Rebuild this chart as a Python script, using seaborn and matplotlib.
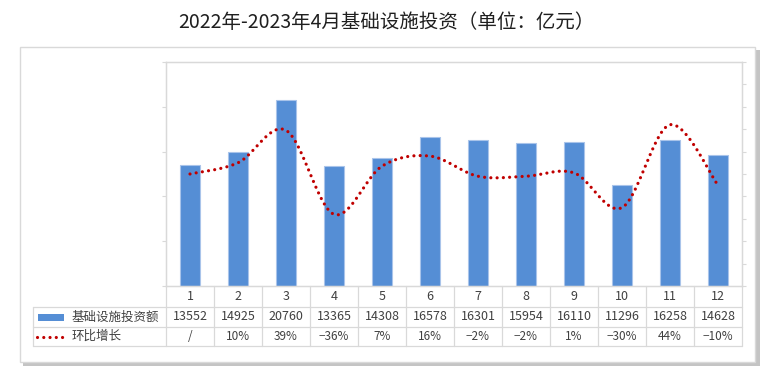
import numpy as np
import pandas as pd
import matplotlib
matplotlib.use("Agg")
import matplotlib.pyplot as plt
import seaborn as sns
from matplotlib.lines import Line2D
from matplotlib.patches import Rectangle
from matplotlib.transforms import blended_transform_factory

# ---------------- data ----------------
months = ["1", "2", "3", "4", "5", "6", "7", "8", "9", "10", "11", "12"]
investment = [13552, 14925, 20760, 13365, 14308, 16578, 16301, 15954, 16110, 11296, 16258, 14628]
growth = [0, 10, 39, -36, 7, 16, -2, -2, 1, -30, 44, -10]          # % (first month plotted at 0)
growth_labels = ["/", "10%", "39%", "−36%", "7%", "16%", "−2%", "−2%", "1%", "−30%", "44%", "−10%"]
series_names = ["基础设施投资额", "环比增长"]
title = "2022年-2023年4月基础设施投资（单位：亿元）"

# ---------------- style ----------------
sns.set_theme(style="white")
plt.rcParams["font.family"] = ["Noto Sans CJK SC", "DejaVu Sans"]

W, H = 780, 378
BLUE = "#558ED5"
RED = "#C00000"
GRID = "#D9D9D9"
TXT = "#404040"

fig = plt.figure(figsize=(W / 100, H / 100), dpi=100)
fig.patch.set_facecolor("white")

def fx(px):
    return px / W

def fy(py):
    return 1 - py / H

# outer chart frame with shadow
fig.add_artist(Rectangle((fx(23), fy(366)), fx(760) - fx(23), fy(50) - fy(366),
                         transform=fig.transFigure, facecolor="#C4C4C4", edgecolor="none", zorder=-3))
fig.add_artist(Rectangle((fx(20), fy(362)), fx(755) - fx(20), fy(47) - fy(362),
                         transform=fig.transFigure, facecolor="white", edgecolor=GRID, lw=1.0, zorder=-2))

L, R, T, B = 166, 742, 62, 286
ax = fig.add_axes([fx(L), fy(B), fx(R) - fx(L), fy(T) - fy(B)])
ax.set_facecolor("white")

df = pd.DataFrame({"month": months, "value": investment})
sns.barplot(data=df, x="month", y="value", order=months, color=BLUE, saturation=1,
            width=0.42, edgecolor="#A9C4EA", linewidth=0.8, ax=ax)
ax.set_ylim(0, 25000)
ax.set_yticks(np.arange(0, 25001, 5000))
ax.set_xlim(-0.5, len(months) - 0.5)
ax.set_xlabel("")
ax.set_ylabel("")
ax.set_xticks(range(len(months)))
ax.set_xticklabels([])
ax.set_yticklabels([])
ax.tick_params(axis="x", length=0)
ax.tick_params(axis="y", length=3, width=0.8, color=GRID, direction="out")
for s in ax.spines.values():
    s.set_color(GRID)
    s.set_linewidth(0.9)

ax2 = ax.twinx()
# smoothed (Catmull-Rom / Bezier) curve through the growth points
xs = np.arange(len(growth), dtype=float)
ys = np.array(growth, dtype=float)
px = np.concatenate([[xs[0]], xs, [xs[-1]]])
py = np.concatenate([[ys[0]], ys, [ys[-1]]])
cx, cy = [], []
t = np.linspace(0, 1, 40)
for i in range(1, len(px) - 2):
    p0 = np.array([px[i], py[i]])
    p3 = np.array([px[i + 1], py[i + 1]])
    p1 = p0 + (np.array([px[i + 1], py[i + 1]]) - np.array([px[i - 1], py[i - 1]])) / 6
    p2 = p3 - (np.array([px[i + 2], py[i + 2]]) - np.array([px[i], py[i]])) / 6
    pts = ((1 - t) ** 3)[:, None] * p0 + (3 * (1 - t) ** 2 * t)[:, None] * p1 \
        + (3 * (1 - t) * t ** 2)[:, None] * p2 + (t ** 3)[:, None] * p3
    if i > 1:
        pts = pts[1:]
    cx.extend(pts[:, 0])
    cy.extend(pts[:, 1])
ax2.plot(cx, cy, color=RED, lw=2.3, linestyle=(0, (0.01, 1.95)), dash_capstyle="round",
         solid_capstyle="round")
ax2.set_ylim(-100, 100)
ax2.set_yticks(np.arange(-100, 101, 20))
ax2.set_yticklabels([])
ax2.tick_params(axis="y", length=3, width=0.8, color=GRID, direction="out")
ax2.grid(False)
ax.grid(False)
for s in ax2.spines.values():
    s.set_color(GRID)
    s.set_linewidth(0.9)

# ---------------- data table ----------------
bt = blended_transform_factory(ax.transData, fig.transFigure)
row_y = [286, 307, 327, 346]
TL = 33
# horizontal lines
for i, yy in enumerate(row_y[1:]):
    fig.add_artist(Line2D([fx(TL), fx(R)], [fy(yy), fy(yy)], transform=fig.transFigure,
                          color=GRID, lw=0.9))
fig.add_artist(Line2D([fx(TL), fx(TL)], [fy(307), fy(346)], transform=fig.transFigure,
                      color=GRID, lw=0.9))
for k in range(len(months) + 1):
    fig.add_artist(Line2D([k - 0.5, k - 0.5], [fy(286), fy(346)], transform=bt,
                          color=GRID, lw=0.9))

fs = 9
for k, m in enumerate(months):
    fig.text(k, fy(296.5), m, transform=bt, ha="center", va="center", fontsize=fs, color=TXT)
    fig.text(k, fy(317), str(investment[k]), transform=bt, ha="center", va="center",
             fontsize=fs, color=TXT)
    fig.text(k, fy(336.5), growth_labels[k], transform=bt, ha="center", va="center",
             fontsize=8.5, color=TXT)

# legend keys in table
fig.add_artist(Rectangle((fx(38), fy(320.5)), fx(26), fy(313.5) - fy(320.5),
                         transform=fig.transFigure, facecolor=BLUE, edgecolor="none"))
fig.add_artist(Line2D([fx(37), fx(63)], [fy(336.5), fy(336.5)], transform=fig.transFigure,
                      color=RED, lw=2.3, linestyle=(0, (0.01, 1.95)), dash_capstyle="round"))
fig.text(fx(72), fy(317), series_names[0], ha="left", va="center", fontsize=fs, color=TXT)
fig.text(fx(72), fy(336.5), series_names[1], ha="left", va="center", fontsize=fs, color=TXT)

# title
fig.text(fx(386), fy(22), title, ha="center", va="center", fontsize=14, color="#1F1F1F")

fig.savefig("out.png", dpi=100, facecolor="white")
